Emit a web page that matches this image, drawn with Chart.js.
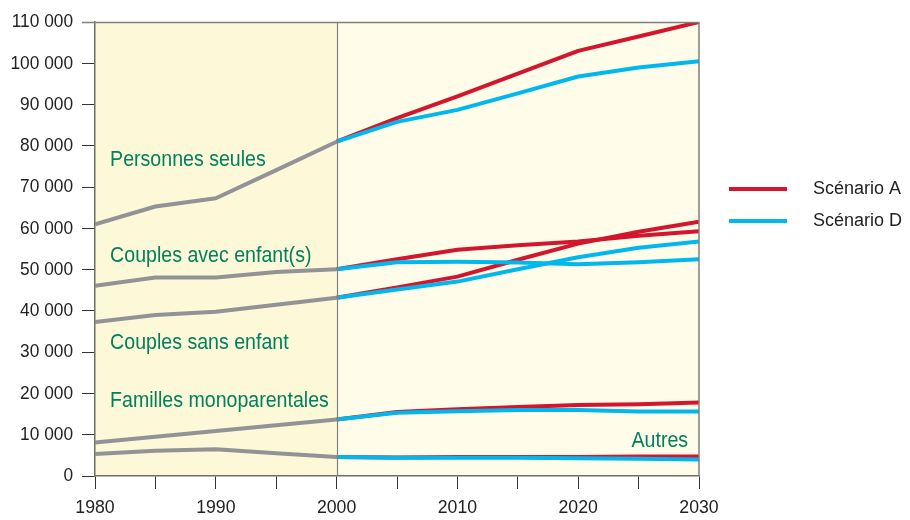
<!DOCTYPE html>
<html>
<head>
<meta charset="utf-8">
<script src="https://cdn.jsdelivr.net/npm/chart.js@4.4.1/dist/chart.umd.min.js"></script>
<style>
  html, body { margin: 0; padding: 0; background: #ffffff; }
  #wrap { width: 910px; height: 520px; position: relative; }
</style>
</head>
<body>
<div id="wrap"><canvas id="c" width="910" height="520"></canvas></div>
<script>
// ---- data ----
const histYears = [1980, 1985, 1990, 1995, 2000];
const projYears = [2000, 2005, 2010, 2015, 2020, 2025, 2030];

const seulesHist = [61000, 65300, 67300, 74100, 81000];
const seulesA    = [81000, 86700, 92000, 97500, 103000, 106500, 110000];
const seulesD    = [81000, 85800, 88700, 92700, 96800, 99000, 100500];

const avecHist = [46100, 48100, 48100, 49400, 50100];
const avecA    = [50100, 52500, 54800, 55900, 56800, 58200, 59300];
const avecD    = [50100, 51800, 51900, 51700, 51300, 51800, 52500];

const sansHist = [37300, 39000, 39800, 41500, 43200];
const sansA    = [43200, 45700, 48300, 52400, 56300, 59200, 61600];
const sansD    = [43200, 45200, 47100, 50100, 53000, 55300, 56800];

const monoHist = [8100, 9500, 10900, 12300, 13700];
const monoA    = [13700, 15500, 16200, 16700, 17200, 17400, 17800];
const monoD    = [13700, 15300, 15700, 16000, 16000, 15600, 15600];

const autresHist = [5300, 6100, 6500, 5500, 4600];
const autresA    = [4600, 4500, 4600, 4600, 4600, 4700, 4700];
const autresD    = [4600, 4400, 4400, 4400, 4300, 4200, 4000];

const seriesNames = ['Scénario A', 'Scénario D'];
const categoryLabels = ['Personnes seules', 'Couples avec enfant(s)', 'Couples sans enfant', 'Familles monoparentales', 'Autres'];
const yTickValues = [0, 10000, 20000, 30000, 40000, 50000, 60000, 70000, 80000, 90000, 100000, 110000];
const xTickLabels = [1980, 1990, 2000, 2010, 2020, 2030];

// ---- styles ----
const GRAY = '#929297';
const RED = '#d3162d';
const BLUE = '#00b8ee';
const GREEN = '#00805f';
const FONT = "'Liberation Sans', Arial, sans-serif";

function pts(xs, ys) { return xs.map((x, i) => ({ x: x, y: ys[i] })); }
function ds(xs, ys, color, label) {
  return { label: label || '', data: pts(xs, ys), borderColor: color, borderWidth: 4,
           pointRadius: 0, fill: false, tension: 0, borderCapStyle: 'butt', borderJoinStyle: 'round' };
}

const hist = [seulesHist, avecHist, sansHist, monoHist, autresHist];
const projA = [seulesA, avecA, sansA, monoA, autresA];
const projD = [seulesD, avecD, sansD, monoD, autresD];

// Chart.js draws dataset 0 on top: blue first, then red, then gray
const datasets = [];
projD.forEach(d => datasets.push(ds(projYears, d, BLUE, seriesNames[1])));
projA.forEach(a => datasets.push(ds(projYears, a, RED, seriesNames[0])));
hist.forEach(h => datasets.push(ds(histYears, h, GRAY)));

function narrowText(ctx, text, x, y, align, size, sx, color) {
  ctx.save();
  ctx.translate(x, y);
  ctx.scale(sx, 1);
  ctx.font = size + "px " + FONT;
  ctx.textAlign = align;
  ctx.textBaseline = 'middle';
  ctx.fillStyle = color;
  ctx.fillText(text, 0, 0);
  ctx.restore();
}

const bgPlugin = {
  id: 'bg',
  beforeDraw(chart) {
    const { ctx, chartArea: a, scales: { x } } = chart;
    const xm = x.getPixelForValue(2000);
    ctx.save();
    ctx.fillStyle = '#fdf8d7';
    ctx.fillRect(a.left, a.top, xm - a.left, a.bottom - a.top);
    ctx.fillStyle = '#fffdea';
    ctx.fillRect(xm, a.top, a.right - xm, a.bottom - a.top);
    ctx.restore();
  },
  afterDatasetsDraw(chart) {
    const { ctx, chartArea: a, scales: { x, y } } = chart;
    const xm = Math.round(x.getPixelForValue(2000)) + 0.5;
    ctx.save();
    ctx.strokeStyle = '#7f7f7a';
    ctx.lineWidth = 1.2;
    ctx.beginPath();
    ctx.moveTo(xm, a.top); ctx.lineTo(xm, a.bottom);
    ctx.stroke();
    ctx.lineWidth = 1.5;
    ctx.beginPath();
    ctx.moveTo(a.left - 13, a.top + 0.5); ctx.lineTo(a.right, a.top + 0.5); ctx.lineTo(a.right, a.bottom);
    ctx.stroke();
    ctx.restore();

    // tick labels (slightly condensed)
    yTickValues.forEach(v => {
      const t = v === 0 ? '0' : (Math.floor(v / 1000) + ' 000');
      narrowText(ctx, t, a.left - 22, y.getPixelForValue(v), 'right', 19, 0.91, '#222');
    });
    xTickLabels.forEach(v => {
      narrowText(ctx, String(v), x.getPixelForValue(v), 508, 'center', 19, 0.93, '#222');
    });

    // category labels
    const lx = x.getPixelForValue(1981.25);
    const anchors = [76600, 53200, 32300, 18300];
    anchors.forEach((v, i) => narrowText(ctx, categoryLabels[i], lx, y.getPixelForValue(v), 'left', 22, 0.89, GREEN));
    narrowText(ctx, categoryLabels[4], x.getPixelForValue(2029.1), y.getPixelForValue(8500), 'right', 22, 0.89, GREEN);

    // legend
    const items = [[RED, seriesNames[0], 189], [BLUE, seriesNames[1], 221]];
    items.forEach(([c, t, yy]) => {
      ctx.save();
      ctx.strokeStyle = c; ctx.lineWidth = 4;
      ctx.beginPath(); ctx.moveTo(729, yy); ctx.lineTo(787, yy); ctx.stroke();
      ctx.restore();
      narrowText(ctx, t, 813, yy, 'left', 18, 1, '#222');
    });
  }
};

new Chart(document.getElementById('c'), {
  type: 'line',
  data: { datasets: datasets },
  options: {
    responsive: false,
    animation: false,
    layout: { padding: { top: 22, right: 211, left: 0, bottom: 0 } },
    plugins: { legend: { display: false }, tooltip: { enabled: false } },
    scales: {
      x: {
        type: 'linear', min: 1980, max: 2030,
        afterFit(s) { s.height = 44; },
        ticks: { stepSize: 5, autoSkip: false, maxRotation: 0, padding: 6, color: 'rgba(0,0,0,0)',
                 font: { family: FONT, size: 19 },
                 callback: v => xTickLabels.includes(v) ? String(v) : '' },
        grid: { display: true, drawOnChartArea: false, drawTicks: true, tickLength: 13, color: '#333', lineWidth: 1 },
        border: { display: true, color: '#6f6f68', width: 1.5 }
      },
      y: {
        type: 'linear', min: 0, max: 110000,
        afterFit(s) { s.width = 95; },
        afterBuildTicks(s) { s.ticks = yTickValues.map(v => ({ value: v })); },
        ticks: { padding: 9, color: 'rgba(0,0,0,0)', font: { family: FONT, size: 19 },
                 callback: v => v === 0 ? '0' : (Math.floor(v / 1000) + ' 000') },
        grid: { display: true, drawOnChartArea: false, drawTicks: true, tickLength: 13, color: '#333', lineWidth: 1 },
        border: { display: true, color: '#6f6f68', width: 1.5 }
      }
    }
  },
  plugins: [bgPlugin]
});
</script>
</body>
</html>
